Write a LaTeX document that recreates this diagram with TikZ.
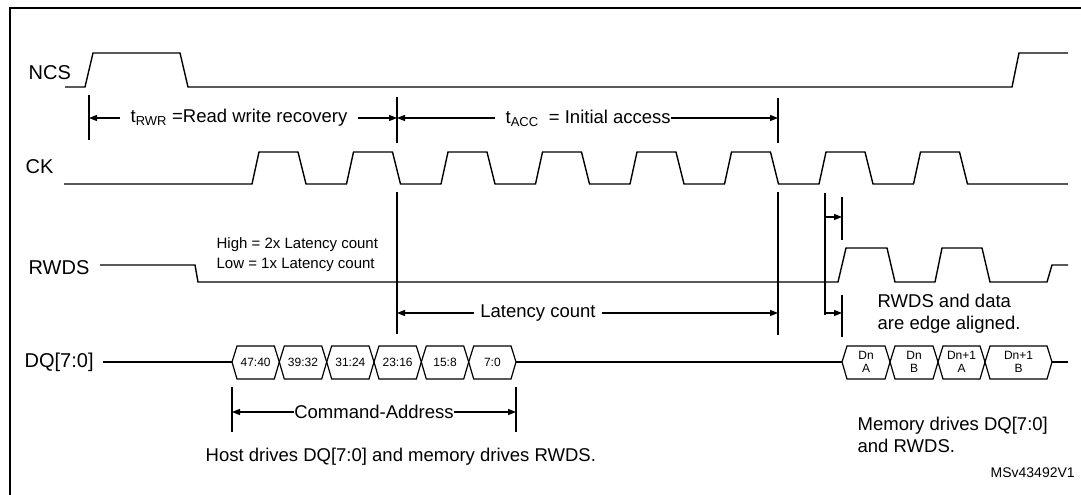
\documentclass[tikz,border=0pt]{standalone}
\usepackage{fontspec}
\setmainfont{Liberation Sans}
\usetikzlibrary{arrows.meta}
\begin{document}
\begin{tikzpicture}[x=1pt,y=-1pt,line width=1.3pt,
  sig/.style={line width=1.4pt,line join=miter},
  dim/.style={line width=1.2pt},
  arr/.style={dim,-{Triangle[length=8pt,width=6pt]}},
  big/.style={font=\fontsize{20}{22}\selectfont,inner sep=0pt},
  mid/.style={font=\fontsize{18.5}{22}\selectfont,inner sep=0pt},
  sm/.style={font=\fontsize{15}{20}\selectfont,inner sep=0pt},
  box/.style={font=\fontsize{12}{12.5}\selectfont,inner sep=0pt,align=center}]
\useasboundingbox (0,0) rectangle (1081,495);
\draw[line width=1.6pt] (10,500) -- (10,8) -- (1090,8);
% labels
\node[big,anchor=west] (lncs) at (28,73) {NCS};
\node[big,anchor=west] (lck) at (25,167) {CK};
\node[big,anchor=west] (lrwds) at (28,268) {RWDS};
\node[big,anchor=west] (ldq) at (24,362) {DQ[7:0]};
% NCS
\draw[sig] (65,87) -- (85,87) -- (93,53) -- (180,53) -- (188,87) -- (1012,87) -- (1019,53) -- (1068,53);
% CK
\draw[sig] (64,184) -- (252,184)
  \foreach \k in {0,...,7} { -- ({252+94.5*\k},184) -- ({259+94.5*\k},152) -- ({298+94.5*\k},152) -- ({306+94.5*\k},184) }
  -- (1068,184);
% RWDS
\draw[sig] (100,265) -- (195,265) -- (198,282) -- (838,282) -- (846,248) -- (887,248) -- (895,282) -- (935,282) -- (942,248) -- (982,248) -- (990,282) -- (1047,282) -- (1052,265) -- (1068,265);
\node[sm,anchor=west] (hi) at (216,245) {High = 2x Latency count};
\node[sm,anchor=west] (lo) at (216,265) {Low = 1x Latency count};
% DQ
\draw[sig] (103,362) -- (232,362);
\draw[sig] (516,362) -- (842,362);
\draw[sig] (1052,362) -- (1068,362);
\foreach \a/\b/\t in {232/279.3/47:40,279.3/326.7/39:32,326.7/374/31:24,374/421.3/23:16,421.3/468.7/15:8,468.7/516/7:0,842/890/{Dn\\A},890/938/{Dn\\B},938/985/{Dn+1\\A},985/1052/{Dn+1\\B}}{
  \draw[line width=1.2pt] (\a,362) -- (\a+5,346) -- (\b-5,346) -- (\b,362) -- (\b-5,379) -- (\a+5,379) -- cycle;
  \node[box] at ({(\a+\b)/2},362) {\t};
}
% vertical markers
\draw[dim] (89,95) -- (89,140);
\draw[dim] (397,97) -- (397,143);
\draw[dim] (397,192) -- (397,334);
\draw[dim] (778,98) -- (778,143);
\draw[dim] (778,192) -- (778,335);
% tRWR / tACC
\node[mid,anchor=west] (trwr) at (130,118) {t\textsubscript{RWR} =Read write recovery};
\draw[arr] (120,118) -- (89,118);
\draw[arr] (trwr.east) ++(10,0) -- (397,118);
\node[mid,anchor=west] (tacc) at (505,118) {t\textsubscript{ACC}\ \ = Initial access};
\draw[arr] (495,118) -- (397,118);
\draw[arr] (tacc.east) -- (778,118);
% latency count
\node[mid] (lat) at (538,313) {Latency count};
\draw[arr] (lat.west) ++(-6,0) -- (397,313);
\draw[arr] (lat.east) ++(6,0) -- (778,313);
% edge aligned markers
\draw[dim] (825,193) -- (825,315);
\draw[dim] (842,197) -- (842,240);
\draw[dim] (842,295) -- (842,337);
\draw[arr] (825,217) -- (842,217);
\draw[arr] (825,313) -- (842,313);
\node[mid,anchor=west,align=left] (edge) at (877,314) {RWDS and data\\are edge aligned.};
% command address
\draw[dim] (232,387) -- (232,432);
\draw[dim] (516,387) -- (516,432);
\node[mid] (ca) at (374,412) {Command-Address};
\draw[arr] (ca.west) -- (232,412);
\draw[arr] (ca.east) -- (516,412);
\node[mid,anchor=west] (host) at (205,457) {Host drives DQ[7:0] and memory drives RWDS.};
\node[mid,anchor=west,align=left] (mem) at (857,435) {Memory drives DQ[7:0]\\and RWDS.};
\node[font=\fontsize{14}{15}\selectfont,inner sep=0pt,anchor=west] (ms) at (990,473) {MSv43492V1};
\end{tikzpicture}
\end{document}
